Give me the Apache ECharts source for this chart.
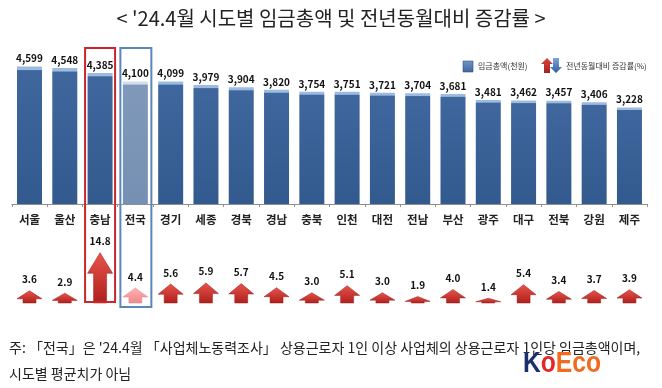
<!DOCTYPE html>
<html><head><meta charset="utf-8">
<script src="https://cdn.jsdelivr.net/npm/echarts@6/dist/echarts.min.js"></script>
<style>html,body{margin:0;padding:0;background:#fff}#c{width:662px;height:388px}</style>
</head><body><div id="c"></div>
<script>
const categories = ['서울','울산','충남','전국','경기','세종','경북','경남','충북','인천','대전','전남','부산','광주','대구','전북','강원','제주'];
const wages = [4599,4548,4385,4100,4099,3979,3904,3820,3754,3751,3721,3704,3681,3481,3462,3457,3406,3228];
const rates = [3.6,2.9,14.8,4.4,5.6,5.9,5.7,4.5,3.0,5.1,3.0,1.9,4.0,1.4,5.4,3.4,3.7,3.9];
const highlightRed = '충남';
const highlightBlue = '전국';

const FONT = '"Noto Sans CJK KR", "Noto Sans", sans-serif';
const chart = echarts.init(document.getElementById('c'));

function grad(stops){ return new echarts.graphic.LinearGradient(0,0,0,1,stops.map((c)=>({offset:c[0],color:c[1]}))); }
const barNormal = grad([[0,'#9DBBE0'],[0.022,'#9DBBE0'],[0.03,'#3F679D'],[1,'#335A8F']]);
const barNation = grad([[0,'#D3DFEC'],[0.022,'#D3DFEC'],[0.03,'#8099BA'],[1,'#7590B2']]);

const barData = wages.map((v,i)=>({value:v, itemStyle:{color: categories[i]===highlightBlue ? barNation : barNormal}}));
const arrowData = rates.map((v,i)=>[i, v]);

function renderArrow(params, api){
  const idx = api.value(0), v = api.value(1);
  const top = api.coord([idx, v]);
  const base = api.coord([idx, 0]);
  const h = base[1]-top[1];
  const cx = top[0];
  const hw = 12.5, sw = 6.5;
  const head = Math.min(4 + h*0.33, h*0.75);
  const ty = top[1], hy = ty + head, by = base[1];
  const nation = categories[idx]===highlightBlue;
  const fill = nation ? grad([[0,'#FBB3B6'],[1,'#F2868A']]) : grad([[0,'#E8544A'],[1,'#AE1F1D']]);
  return {
    type:'polygon',
    shape:{points:[[cx,ty],[cx+hw,hy],[cx+sw,hy],[cx+sw,by],[cx-sw,by],[cx-sw,hy],[cx-hw,hy]]},
    style:{fill:fill, stroke: nation ? '#E98A8E' : '#9A1B1B', lineWidth:0.5},
    textContent:{style:{text: v.toFixed(1), fill:'#111', font:'bold 10px '+FONT}},
    textConfig:{position:'top', distance:6}
  };
}

chart.setOption({
  animation:false,
  backgroundColor:'#fff',
  title:{text:"< '24.4월 시도별 임금총액 및 전년동월대비 증감률 >", left:'center', top:3,
    textStyle:{fontFamily:FONT, fontSize:20, fontWeight:'normal', color:'#222'}},
  grid:[
    {left:11.85, right:14.9, top:54.5, bottom:184},
    {left:11.85, right:14.9, top:235, bottom:85}
  ],
  xAxis:[
    {type:'category', gridIndex:0, data:categories,
      axisLine:{lineStyle:{color:'#8F8F8F', width:1}},
      axisTick:{show:true, length:3, lineStyle:{color:'#8F8F8F'}},
      axisLabel:{fontFamily:FONT, fontSize:11.5, fontWeight:'bold', color:'#222', margin:10}},
    {type:'category', gridIndex:1, data:categories, show:false}
  ],
  yAxis:[
    {type:'value', gridIndex:0, min:0, max:5000, show:false},
    {type:'value', gridIndex:1, min:0, max:20, show:false}
  ],
  series:[
    {type:'bar', xAxisIndex:0, yAxisIndex:0, data:barData, barWidth:25,
      label:{show:true, position:'top', distance:3, fontFamily:FONT, fontSize:10, fontWeight:'bold', color:'#111',
        formatter:p=>p.value.toLocaleString('en-US')}},
    {type:'custom', xAxisIndex:1, yAxisIndex:1, data:arrowData, renderItem:renderArrow, z:3}
  ]
});

const iRed = categories.indexOf(highlightRed), iBlue = categories.indexOf(highlightBlue);
const xr = chart.convertToPixel({xAxisIndex:0}, iRed);
const xb = chart.convertToPixel({xAxisIndex:0}, iBlue);
const LOGOF = 'bold 29px "Liberation Sans Narrow", "Liberation Sans", sans-serif';
chart.setOption({
  graphic:[
    {type:'rect', shape:{x:xr-15, y:48, width:30, height:254}, style:{fill:'none', stroke:'#C8262B', lineWidth:2}, z:10},
    {type:'rect', shape:{x:xb-15, y:48, width:31, height:259}, style:{fill:'none', stroke:'#5A86B8', lineWidth:2}, z:10},
    {type:'rect', shape:{x:463, y:61, width:10, height:11}, style:{fill:grad([[0,'#6E95C8'],[1,'#3F679D']]), stroke:'#2E5386', lineWidth:0.6}},
    {type:'text', x:478, y:66, style:{text:'임금총액(천원)', font:'8px '+FONT, fill:'#333', verticalAlign:'middle'}},
    {type:'polygon', shape:{points:[[547,58],[553,64],[550,64],[550,73],[544,73],[544,64],[541,64]]}, style:{fill:grad([[0,'#D9473E'],[1,'#A52020']])}},
    {type:'polygon', shape:{points:[[556,73],[562,67],[559,67],[559,58],[553,58],[553,67],[550,67]]}, style:{fill:grad([[0,'#7FA6D8'],[1,'#2F5D9E']])}},
    {type:'text', x:566, y:66, style:{text:'전년동월대비 증감률(%)', font:'8px '+FONT, fill:'#333', verticalAlign:'middle'}},
    {type:'text', x:9, y:348, style:{text:"주: 「전국」은 '24.4월 「사업체노동력조사」 상용근로자 1인 이상 사업체의 상용근로자 1인당 임금총액이며,", font:'14px '+FONT, fill:'#222', verticalAlign:'middle'}},
    {type:'text', x:9, y:374, style:{text:'시도별 평균치가 아님', font:'14px '+FONT, fill:'#222', verticalAlign:'middle'}},
    {type:'text', x:523, y:364, scaleX:0.85, z:20, style:{
      text:'{k|K}{o|o}{e|Eco}', verticalAlign:'middle',
      rich:{
        k:{font:LOGOF, fill:'#1C2F6D'},
        o:{font:LOGOF, fill:'#E3262A'},
        e:{font:LOGOF, fill:'#F26A1E'}
      }}}
  ]
});
</script></body></html>
